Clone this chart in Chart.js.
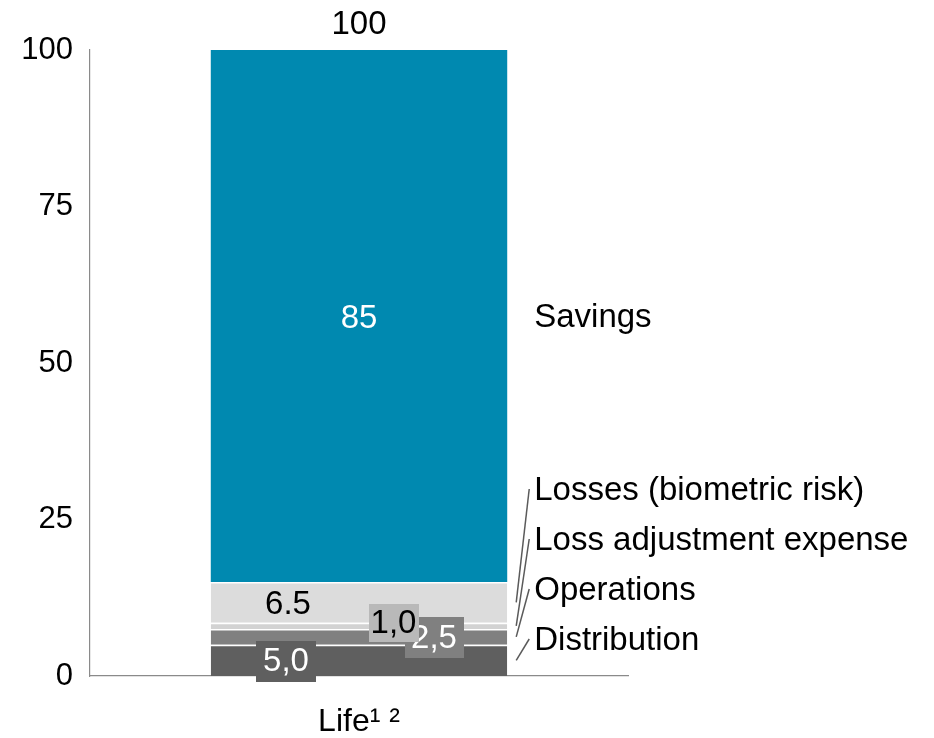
<!DOCTYPE html>
<html>
<head>
<meta charset="utf-8">
<script src="https://cdn.jsdelivr.net/npm/chart.js@4/dist/chart.umd.min.js"></script>
<style>
  html, body { margin: 0; padding: 0; background: #ffffff; }
  #wrap { width: 934px; height: 738px; }
</style>
</head>
<body>
<div id="wrap"><canvas id="c" width="934" height="738"></canvas></div>
<script>
// Cost structure of a life insurance premium (stacked, bottom to top)
const categories = ['Life\u00B9 \u00B2'];
const seriesNames = ['Distribution', 'Operations', 'Loss adjustment expense', 'Losses (biometric risk)', 'Savings'];
const values = [5.0, 2.5, 1.0, 6.5, 85];
const decimalMarks = [',', ',', ',', '.', null];
const yTicks = [0, 25, 50, 75, 100];

const FONT = '"Liberation Sans", Arial, sans-serif';
const fills = ['#5f5f5f', '#808080', '#d2d2d2', '#dcdcdc', '#0089b0'];
const boxFills = ['#5f5f5f', '#808080', '#b9b9b9', null, null];
const textColors = ['#ffffff', '#ffffff', '#000000', '#000000', '#ffffff'];
// value label placement relative to the bar centre / segment middle (px)
const labelShift = [-73, 75, 34.5, -71, 0];
const labelLift = [1, 1, -3, 1.5, 2];
const boxPad = [14, 13, 4, 0, 0];
const boxHeight = [41, 41, 38, 0, 0];

function fmt(v, mark) {
  if (mark === null) return String(Math.round(v));
  return v.toFixed(1).replace('.', mark);
}

const annotate = {
  id: 'annotate',
  afterDatasetsDraw(chart) {
    const ctx = chart.ctx;
    const area = chart.chartArea;
    ctx.save();
    ctx.font = '33px ' + FONT;
    ctx.textAlign = 'center';
    ctx.textBaseline = 'middle';

    const bars = values.map((v, i) => chart.getDatasetMeta(i).data[0]);
    const mid = bars.map(b => (b.y + b.base) / 2);

    // value labels; the 2,5 box sits beneath the 1,0 box
    const order = [3, 4, 0, 1, 2];
    order.forEach(i => {
      const b = bars[i];
      const txt = fmt(values[i], decimalMarks[i]);
      const x = b.x + labelShift[i];
      const y = mid[i] + labelLift[i];
      if (boxFills[i]) {
        const w = ctx.measureText(txt).width + boxPad[i];
        const h = boxHeight[i];
        ctx.fillStyle = boxFills[i];
        ctx.fillRect(Math.round(x - w / 2), Math.round(y - h / 2), Math.round(w), h);
      }
      ctx.fillStyle = textColors[i];
      ctx.fillText(txt, x, y + 1);
    });

    // total above the stack
    const total = values.reduce((a, b) => a + b, 0);
    const top = bars[bars.length - 1];
    ctx.fillStyle = '#000000';
    ctx.fillText(String(Math.round(total)), top.x, top.y - 25);

    // series names at the right
    const right = top.x + top.width / 2;
    const textX = right + 27;
    ctx.textAlign = 'left';
    ctx.fillText(seriesNames[4], textX, mid[4] + 2);
    ctx.strokeStyle = '#5a5a5a';
    ctx.lineWidth = 1.5;
    for (let i = 0; i < 4; i++) {
      const ly = area.bottom - 36 - i * 50;
      ctx.fillStyle = '#000000';
      ctx.fillText(seriesNames[i], textX, ly + 1);
      ctx.beginPath();
      ctx.moveTo(right + 9, mid[i]);
      ctx.lineTo(right + 22, ly - 1);
      ctx.stroke();
    }
    ctx.restore();
  }
};

new Chart(document.getElementById('c'), {
  type: 'bar',
  data: {
    labels: categories,
    datasets: values.map((v, i) => ({
      label: seriesNames[i],
      data: [v],
      backgroundColor: fills[i],
      borderColor: '#ffffff',
      // white separator along the top of every segment below the top one
      borderWidth: i < values.length - 1 ? { top: 1.5, right: 0, bottom: 0, left: 0 } : 0,
      borderSkipped: false,
      barPercentage: 0.551,
      categoryPercentage: 1.0
    }))
  },
  options: {
    responsive: false,
    animation: false,
    devicePixelRatio: 1,
    layout: { padding: { top: 50, right: 306, left: 0, bottom: 0 } },
    plugins: { legend: { display: false }, tooltip: { enabled: false } },
    scales: {
      x: {
        stacked: true,
        grid: { display: false, drawTicks: false },
        border: { display: true, color: '#8a8a8a', width: 1.2 },
        ticks: { color: '#000000', font: { family: FONT, size: 32 }, padding: 27 },
        afterFit(scale) { scale.height = 62; }
      },
      y: {
        stacked: true,
        min: 0,
        max: 100,
        afterBuildTicks(scale) { scale.ticks = yTicks.map(v => ({ value: v })); },
        grid: { display: false, drawTicks: false },
        border: { display: true, color: '#8a8a8a', width: 1.2 },
        ticks: { color: '#000000', font: { family: FONT, size: 31 }, padding: 17 },
        afterFit(scale) { scale.width = 90; }
      }
    }
  },
  plugins: [annotate]
});
</script>
</body>
</html>
